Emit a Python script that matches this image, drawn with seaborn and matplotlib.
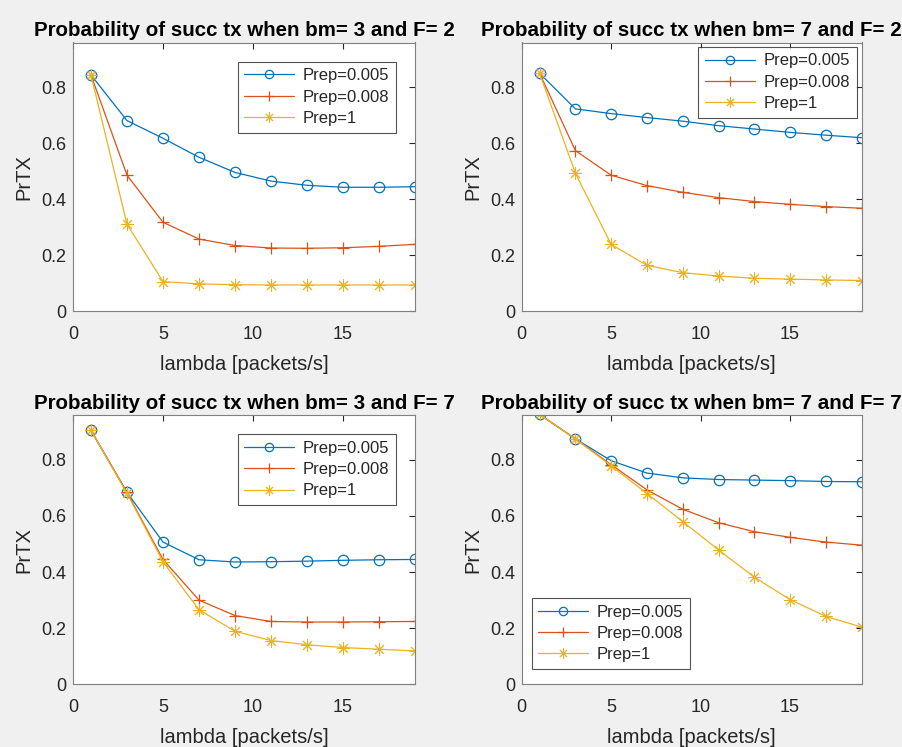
import matplotlib
matplotlib.use("Agg")
import matplotlib.pyplot as plt
import seaborn as sns
import pandas as pd

# lambda values (packets/s)
lam = [1, 3, 5, 7, 9, 11, 13, 15, 17, 19]

series_names = ["Prep=0.005", "Prep=0.008", "Prep=1"]

# bm=3, F=2
tl_p005 = [0.844, 0.681, 0.618, 0.550, 0.496, 0.465, 0.450, 0.443, 0.443, 0.445]
tl_p008 = [0.844, 0.486, 0.318, 0.258, 0.235, 0.226, 0.225, 0.227, 0.232, 0.239]
tl_p1 = [0.844, 0.311, 0.106, 0.098, 0.095, 0.094, 0.094, 0.094, 0.094, 0.094]

# bm=7, F=2
tr_p005 = [0.850, 0.723, 0.706, 0.692, 0.679, 0.663, 0.651, 0.639, 0.629, 0.620]
tr_p008 = [0.850, 0.574, 0.486, 0.449, 0.425, 0.406, 0.392, 0.382, 0.374, 0.368]
tr_p1 = [0.850, 0.493, 0.239, 0.164, 0.138, 0.126, 0.118, 0.115, 0.112, 0.110]

# bm=3, F=7
bl_p005 = [0.905, 0.684, 0.507, 0.444, 0.436, 0.437, 0.439, 0.442, 0.444, 0.445]
bl_p008 = [0.905, 0.684, 0.445, 0.300, 0.245, 0.224, 0.222, 0.222, 0.223, 0.224]
bl_p1 = [0.905, 0.681, 0.437, 0.266, 0.189, 0.156, 0.141, 0.131, 0.125, 0.119]

# bm=7, F=7
br_p005 = [0.962, 0.875, 0.797, 0.753, 0.736, 0.730, 0.728, 0.726, 0.723, 0.722]
br_p008 = [0.962, 0.875, 0.783, 0.693, 0.624, 0.576, 0.544, 0.524, 0.507, 0.496]
br_p1 = [0.962, 0.875, 0.779, 0.680, 0.580, 0.479, 0.382, 0.302, 0.242, 0.204]

panels = [
    ("Probability of succ tx when bm= 3 and F= 2", [tl_p005, tl_p008, tl_p1]),
    ("Probability of succ tx when bm= 7 and F= 2", [tr_p005, tr_p008, tr_p1]),
    ("Probability of succ tx when bm= 3 and F= 7", [bl_p005, bl_p008, bl_p1]),
    ("Probability of succ tx when bm= 7 and F= 7", [br_p005, br_p008, br_p1]),
]

# MATLAB default colour order and markers ('*' drawn as an 8-spoke asterisk)
colors = ["#0072BD", "#D95319", "#EDB120"]
markers = ["o", "+", (8, 2, 0)]
msizes = [7.5, 9, 9]
mews = [0.9, 0.9, 0.7]

sns.set_style("white")
plt.rcParams["font.family"] = ["Liberation Sans", "DejaVu Sans"]

W, H = 902, 747
fig = plt.figure(figsize=(W / 100, H / 100), dpi=100, facecolor="#f0f0f0")

# axes boxes in pixels: left, top, right, bottom
boxes = [
    (73, 42.5, 415, 311.3),
    (521.7, 42.5, 861.7, 311.3),
    (73, 415, 415, 684.3),
    (521.7, 415, 861.7, 684.3),
]

# legend anchors (axes fraction) and loc
legend_pos = [
    ("upper right", (0.944, 0.929)),
    ("upper right", (0.985, 0.984)),
    ("upper right", (0.944, 0.929)),
    ("lower left", (0.029, 0.057)),
]

edge = "#262626"

for (title, ys), (l, t, r, b), (loc, anchor) in zip(panels, boxes, legend_pos):
    ax = fig.add_axes([l / W, 1 - b / H, (r - l) / W, (b - t) / H])
    ax.set_facecolor("white")
    for name, y, c, m, ms, mw in zip(series_names, ys, colors, markers, msizes, mews):
        df = pd.DataFrame({"lambda": lam, "PrTX": y})
        sns.lineplot(data=df, x="lambda", y="PrTX", ax=ax, color=c, marker=m,
                     markersize=ms, mfc="none", mec=c, mew=mw,
                     linewidth=0.9, label=name)
    ax.set_xlim(0, 19)
    ax.set_ylim(0, 0.96)
    ax.set_xticks([0, 5, 10, 15])
    ax.set_yticks([0, 0.2, 0.4, 0.6, 0.8])
    ax.set_yticklabels(["0", "0.2", "0.4", "0.6", "0.8"])
    ax.tick_params(direction="in", top=True, right=True, length=4,
                   color=edge, labelcolor=edge, labelsize=13)
    ax.tick_params(axis="x", pad=10.5)
    ax.tick_params(axis="y", pad=4.5)
    for s in ax.spines.values():
        s.set_color("#808080")
        s.set_linewidth(0.8)
    ax.set_xlabel("lambda [packets/s]", fontsize=14.5, color=edge, labelpad=9)
    ax.set_ylabel("PrTX", fontsize=14.5, color=edge, labelpad=6)
    ax.set_title(title, fontsize=14.8, fontweight="bold", color="black", pad=4.5)
    leg = ax.legend(loc=loc, bbox_to_anchor=anchor, fontsize=12,
                    frameon=True, fancybox=False, borderpad=0.4,
                    handlelength=3.0, labelspacing=0.38, handletextpad=0.5,
                    borderaxespad=0, markerscale=0.8)
    leg.get_frame().set_edgecolor(edge)
    leg.get_frame().set_linewidth(0.8)

fig.savefig("out.png", dpi=100, facecolor=fig.get_facecolor())
